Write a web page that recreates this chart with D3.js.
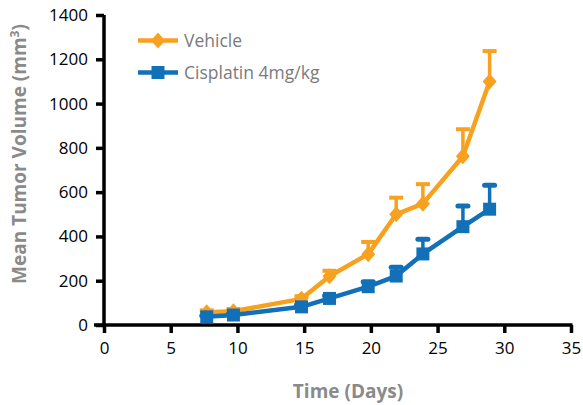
<!DOCTYPE html>
<html>
<head>
<meta charset="utf-8">
<script src="https://cdn.jsdelivr.net/npm/d3@7"></script>
<style>
  html, body { margin: 0; padding: 0; background: #fff; }
  svg { display: block; }
</style>
</head>
<body>
<svg id="chart" width="583" height="405"></svg>
<script>
// Measurement days and group means (mm³), with upward error (SEM)
const days = [7.7, 9.7, 14.8, 16.9, 19.8, 21.9, 23.9, 26.9, 28.9];
const vehicle = [58, 62, 118, 220, 320, 500, 548, 762, 1100];
const vehicleErr = [8, 10, 12, 25, 55, 75, 88, 122, 137];
const cisplatin = [37, 45, 82, 120, 173, 221, 321, 444, 523];
const cisplatinErr = [5, 6, 10, 12, 22, 40, 66, 93, 108];
const seriesNames = ["Vehicle", "Cisplatin 4mg/kg"];
const xTicks = [0, 5, 10, 15, 20, 25, 30, 35];
const yTicks = [0, 200, 400, 600, 800, 1000, 1200, 1400];

const orange = "#F7A11E";
const blue = "#1170B8";
const font = "'Open Sans', 'Noto Sans', sans-serif";

const svg = d3.select("#chart");
const x = d3.scaleLinear().domain([0, 35]).range([104, 571]);
const y = d3.scaleLinear().domain([0, 1400]).range([325, 15]);

// Axes
const xAxis = svg.append("g").attr("transform", `translate(0,${y(0)})`)
  .call(d3.axisBottom(x).tickValues(xTicks).tickFormat(d3.format("d")).tickSize(8).tickPadding(9));
const yAxis = svg.append("g").attr("transform", `translate(${x(0)},0)`)
  .call(d3.axisLeft(y).tickValues(yTicks).tickFormat(d3.format("d")).tickSize(8).tickPadding(8));
[xAxis, yAxis].forEach(g => {
  g.select(".domain").attr("stroke", "#000").attr("stroke-width", 3.5);
  g.selectAll(".tick line").attr("stroke", "#000").attr("stroke-width", 3.5);
  g.selectAll(".tick text").attr("fill", "#000")
    .style("font-family", font).style("font-size", "17px");
});
// extend the horizontal axis a little past the origin
xAxis.select(".domain").attr("d", `M${x(0) - 10},0H${x(35) + 1.5}`);
yAxis.select(".domain").attr("d", `M0,${y(0) + 1.5}V${y(1400)}`);

// Axis titles
svg.append("text")
  .attr("x", 348).attr("y", 398)
  .attr("text-anchor", "middle")
  .attr("fill", "#8a8a8a")
  .style("font-family", font).style("font-size", "19px").style("font-weight", "bold")
  .text("Time (Days)");

const yTitle = svg.append("text")
  .attr("transform", "translate(26,154) rotate(-90)")
  .attr("text-anchor", "middle")
  .attr("fill", "#8a8a8a")
  .style("font-family", font).style("font-size", "19px").style("font-weight", "bold");
yTitle.append("tspan").text("Mean Tumor Volume (mm");
yTitle.append("tspan").attr("dy", -7).style("font-size", "12px").text("3");
yTitle.append("tspan").attr("dy", 7).text(")");

const line = d3.line().x(d => x(d[0])).y(d => y(d[1]));

function drawSeries(values, errs, color, shape, roundCap) {
  const pts = days.map((d, i) => [d, values[i], errs[i]]);
  const g = svg.append("g");
  // upward error bars
  g.selectAll("line.stem").data(pts).join("line")
    .attr("x1", d => x(d[0])).attr("x2", d => x(d[0]))
    .attr("y1", d => y(d[1])).attr("y2", d => y(d[1] + d[2]))
    .attr("stroke", color).attr("stroke-width", 3.5);
  g.selectAll("line.cap").data(pts).join("line")
    .attr("x1", d => x(d[0]) - (roundCap ? 5 : 7)).attr("x2", d => x(d[0]) + (roundCap ? 5 : 7))
    .attr("y1", d => y(d[1] + d[2])).attr("y2", d => y(d[1] + d[2]))
    .attr("stroke", color).attr("stroke-width", roundCap ? 5 : 4)
    .attr("stroke-linecap", roundCap ? "round" : "butt");
  g.append("path").datum(pts).attr("d", line)
    .attr("fill", "none").attr("stroke", color).attr("stroke-width", 4.5)
    .attr("stroke-linejoin", "round");
  g.selectAll("path.mark").data(pts).join("path")
    .attr("d", shape)
    .attr("transform", d => `translate(${x(d[0])},${y(d[1])})`)
    .attr("fill", color);
}

const diamond = "M0,-8L7,0L0,8L-7,0Z";
const square = "M-6.5,-6.5H6.5V6.5H-6.5Z";

drawSeries(vehicle, vehicleErr, orange, diamond, false);
drawSeries(cisplatin, cisplatinErr, blue, square, true);

// Legend
const legend = svg.append("g");
const legendItems = [
  { name: seriesNames[0], color: orange, shape: diamond, y: 40.5 },
  { name: seriesNames[1], color: blue, shape: square, y: 72.5 }
];
legendItems.forEach(it => {
  legend.append("line")
    .attr("x1", 138).attr("x2", 178).attr("y1", it.y).attr("y2", it.y)
    .attr("stroke", it.color).attr("stroke-width", 4.5);
  legend.append("path").attr("d", it.shape)
    .attr("transform", `translate(158,${it.y})`).attr("fill", it.color);
  legend.append("text")
    .attr("x", 184).attr("y", it.y).attr("dy", "0.35em")
    .attr("fill", "#7a7a7a")
    .style("font-family", font).style("font-size", "17.5px")
    .text(it.name);
});
</script>
</body>
</html>
